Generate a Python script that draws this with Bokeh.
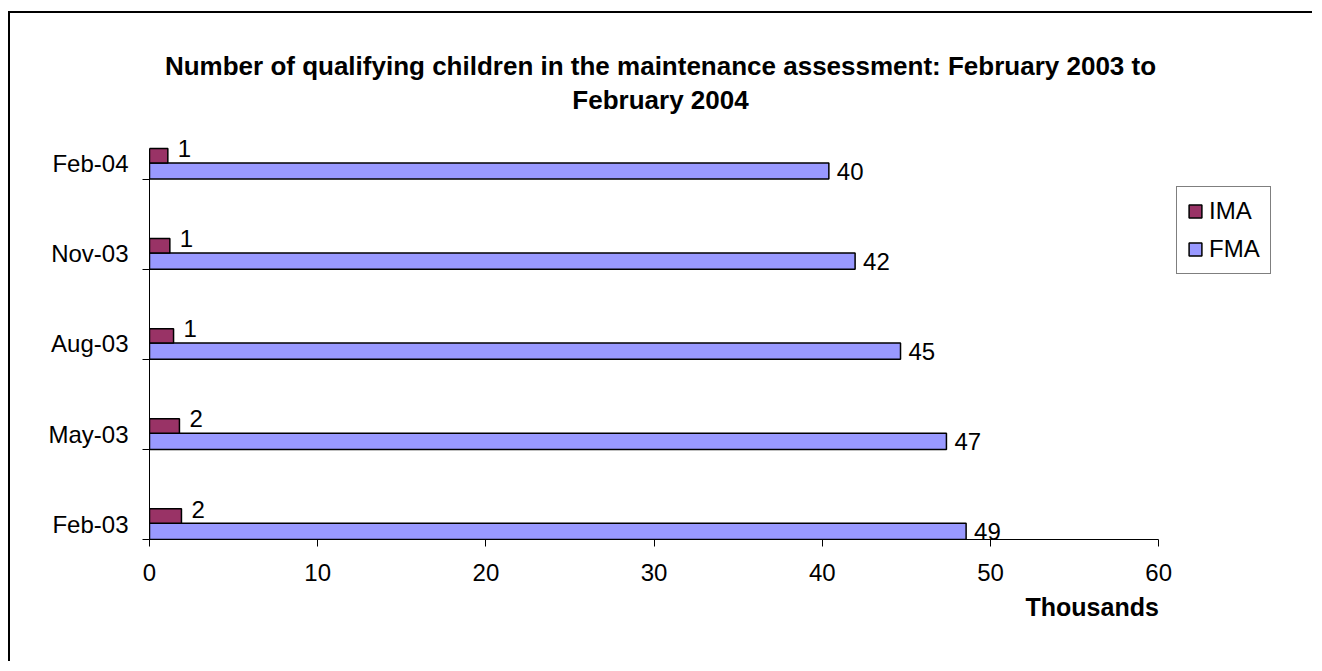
from bokeh.plotting import figure
from bokeh.models import Range1d, FixedTicker, Legend, LegendItem, ColumnDataSource, LabelSet, Label, Title
from bokeh.core.properties import value
from bokeh.embed import file_html
from bokeh.resources import INLINE

categories = ["Feb-03", "May-03", "Aug-03", "Nov-03", "Feb-04"]
ima = [1.90, 1.78, 1.43, 1.21, 1.09]
fma = [48.55, 47.38, 44.65, 41.95, 40.39]
ima_labels = ["2", "2", "1", "1", "1"]
fma_labels = ["49", "47", "45", "42", "40"]
x_ticks = [0, 10, 20, 30, 40, 50, 60]
title_lines = ["Number of qualifying children in the maintenance assessment: February 2003 to",
               "February 2004"]

FONT = "Liberation Sans"
idx = list(range(len(categories)))

src = ColumnDataSource(dict(
    fma_y=[i + 0.09 for i in idx],
    ima_y=[i + 0.26 for i in idx],
    fma=fma, ima=ima,
    fma_lab=fma_labels, ima_lab=ima_labels,
))

# frame: x 149..1300 px, y 25..539 px  (16.82 px per thousand, 90.1 px per category)
p = figure(width=1304, height=650, output_backend="svg", toolbar_location=None,
           x_range=Range1d(0, 68.43), y_range=Range1d(0, 5.705),
           min_border_left=139, min_border_right=14, min_border_top=12, min_border_bottom=124)
p.styles = {"border-left": "2px solid black", "border-top": "2px solid black",
            "margin-top": "11px", "margin-left": "8px"}
p.outline_line_color = None
p.xgrid.grid_line_color = None
p.ygrid.grid_line_color = None
p.background_fill_color = "white"

r_fma = p.hbar(y="fma_y", height=0.18, left=0, right="fma", source=src,
               fill_color="#9999FF", line_color="black", line_width=1.5)
r_ima = p.hbar(y="ima_y", height=0.16, left=0, right="ima", source=src,
               fill_color="#993366", line_color="black", line_width=1.5)

p.add_layout(LabelSet(x="fma", y="fma_y", text="fma_lab", source=src, x_offset=8,
                      text_baseline="middle", text_font=value(FONT), text_font_size="24px",
                      text_color="black"))
p.add_layout(LabelSet(x="ima", y="ima_y", text="ima_lab", source=src, x_offset=10, y_offset=7,
                      text_baseline="middle", text_font=value(FONT), text_font_size="24px",
                      text_color="black"))

# x axis
xa = p.xaxis[0]
xa.bounds = (0, 60)
xa.ticker = FixedTicker(ticks=x_ticks, minor_ticks=[])
xa.major_tick_out = 7
xa.major_tick_in = 0
xa.minor_tick_line_color = None
xa.axis_line_color = "black"
xa.major_tick_line_color = "black"
xa.major_label_text_font = FONT
xa.major_label_text_font_size = "24px"
xa.major_label_text_color = "black"
xa.major_label_standoff = 17

# y axis
ya = p.yaxis[0]
ya.bounds = (0, 4.34)
ya.ticker = FixedTicker(ticks=[i + 0.17 for i in idx], minor_ticks=idx)
ya.major_label_overrides = {i + 0.17: c for i, c in zip(idx, categories)}
ya.major_tick_out = 0
ya.major_tick_in = 0
ya.minor_tick_out = 7
ya.minor_tick_in = 0
ya.minor_tick_line_color = "black"
ya.axis_line_color = "black"
ya.major_label_text_font = FONT
ya.major_label_text_font_size = "24px"
ya.major_label_text_color = "black"
ya.major_label_standoff = 14

# title (two centred lines)
p.add_layout(Label(x=30.38, y=5.261, text=title_lines[0], text_align="center",
                   text_baseline="alphabetic", text_font=FONT, text_font_size="26px",
                   text_font_style="bold", text_color="black"))
p.add_layout(Label(x=30.38, y=4.883, text=title_lines[1], text_align="center",
                   text_baseline="alphabetic", text_font=FONT, text_font_size="26px",
                   text_font_style="bold", text_color="black"))

p.add_layout(Title(text="Thousands", align="left", offset=876, text_font=FONT, text_font_size="25px",
                   text_font_style="bold", text_color="black", standoff=15), "below")

legend = Legend(items=[LegendItem(label="IMA", renderers=[r_ima]),
                       LegendItem(label="FMA", renderers=[r_fma])],
                location=(1027, 265), orientation="vertical",
                glyph_width=16, glyph_height=16, label_text_font=FONT,
                label_text_font_size="24px", label_text_color="black", label_standoff=6, spacing=10,
                padding=10, margin=0, border_line_color="black", border_line_width=1,
                label_height=24, background_fill_color="white")
p.add_layout(legend)

open("out.html", "w").write(file_html(p, INLINE))
